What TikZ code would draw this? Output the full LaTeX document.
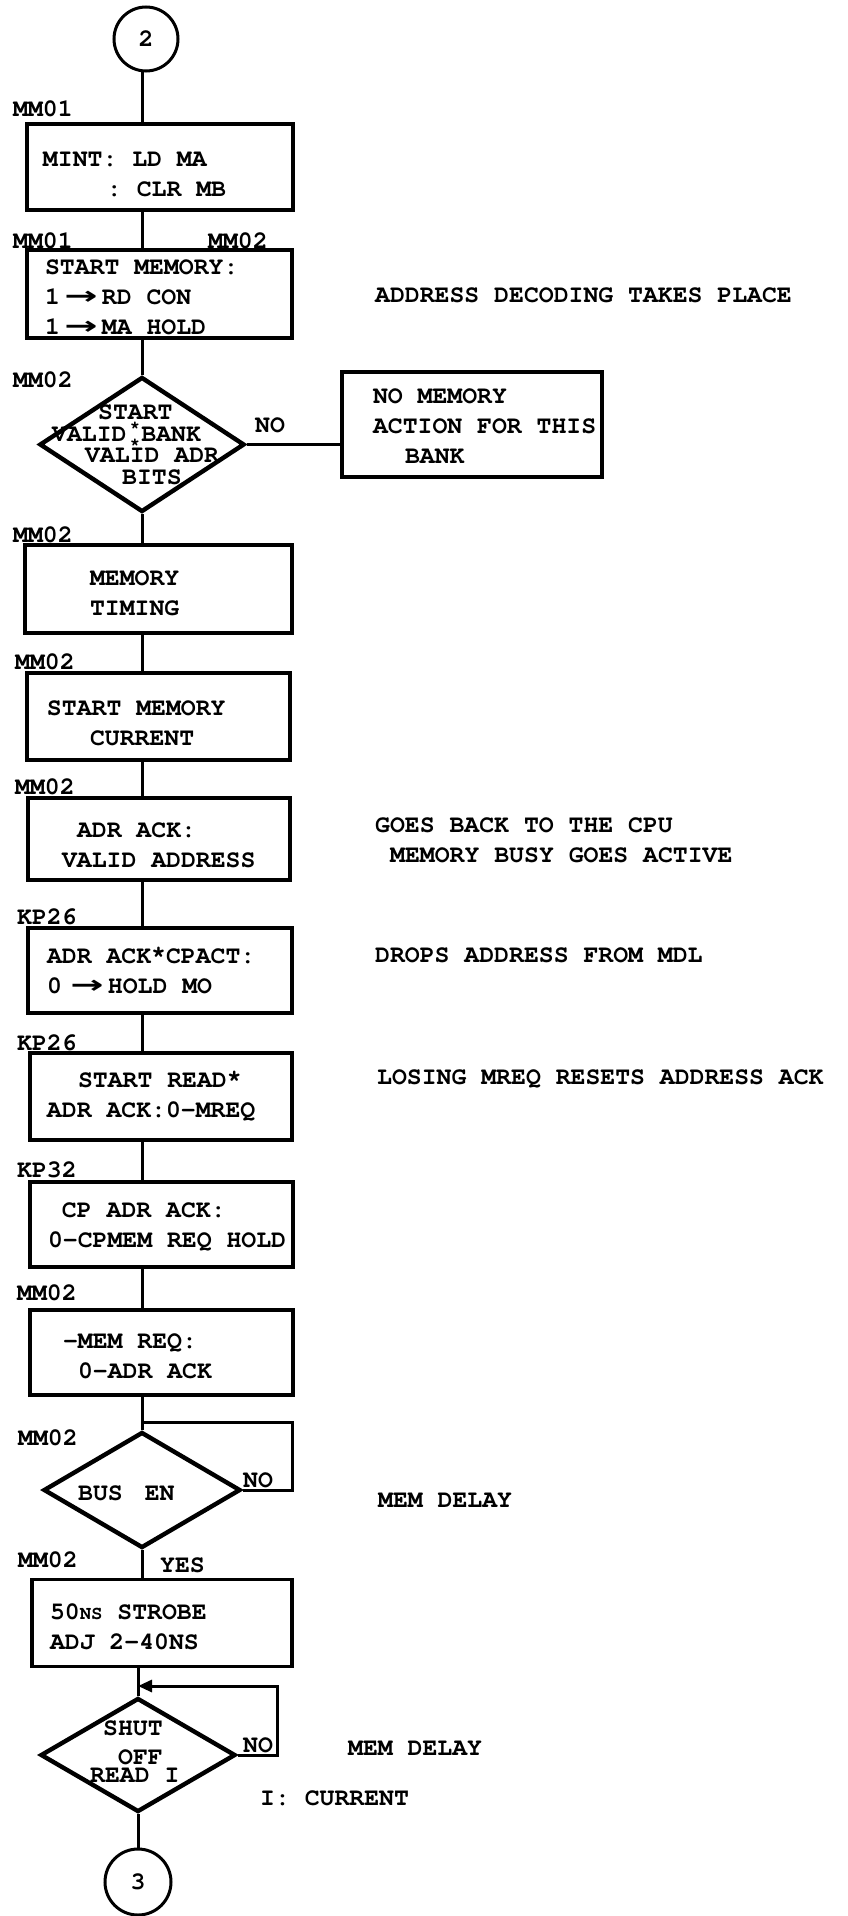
\documentclass[tikz,border=0pt]{standalone}
\usepackage[T1]{fontenc}
\usepackage{fontspec}
\usepackage{graphicx}
\usetikzlibrary{shapes.geometric,arrows.meta}
\newfontfamily\djv{DejaVu Sans}
\newcommand\twf{\fontencoding{T1}\fontfamily{pcr}\fontseries{b}\fontshape{n}\selectfont}
\newcommand\tw{\twf\fontsize{24.8pt}{30pt}\selectfont}
\newcommand\fixsp{\spaceskip=14.88pt\relax\xspaceskip=14.88pt\relax}
\newcommand\rar{\makebox[42pt][c]{\djv\bfseries\scalebox{1.6}[1]{→}}}
\newcommand\up[1]{\rule{0pt}{#1pt}}
\newcommand\rast{\raisebox{5pt}{*}}
\begin{document}
\begin{tikzpicture}[x=1pt,y=-1pt,
  every node/.style={font={\tw\fixsp}, execute at begin node={\fixsp}},
  box/.style={draw, line width=3.2pt, rectangle, inner sep=0pt, align=left},
  dec/.style={draw, diamond, line width=4.4pt, inner sep=0pt},
  term/.style={draw, circle, line width=3pt, inner sep=0pt},
  conn/.style={line width=3pt},
  lab/.style={anchor=west, inner sep=0pt, text height=14pt, text depth=0pt},
  asty/.style={inner sep=0pt, font={\twf\fontsize{17pt}{17pt}\selectfont}}]
\useasboundingbox (0,0) rectangle (847,1916);
\coordinate (sp) at (142,0);

% terminals
\node[term, minimum size=64pt] (c2) at (146,39) {2};
\node[term, minimum size=66pt] (c3) at (138,1882) {3};

% boxes
\node[box, minimum width=266pt, text width=266pt, minimum height=86pt] (b1) at (160,167)
  {\up{29}\hspace*{16pt}\mbox{MINT: LD MA}\\\hspace*{80pt}\mbox{: CLR MB}};
\node[box, minimum width=265pt, text width=265pt, minimum height=88pt] (b2) at (159.5,294)
  {\up{21}\hspace*{18pt}\mbox{START MEMORY:}\\\hspace*{18pt}\mbox{1\rar RD CON}\\\hspace*{18pt}\mbox{1\rar MA HOLD}};
\node[box, minimum width=260pt, text width=260pt, minimum height=105pt] (nm) at (472,424.5)
  {\up{19}\hspace*{31pt}\mbox{NO MEMORY}\\\hspace*{31pt}\mbox{ACTION FOR THIS}\\\hspace*{63pt}\mbox{BANK}};
\node[box, minimum width=267pt, text width=267pt, minimum height=88pt] (b3) at (158.5,589)
  {\up{23}\hspace*{65pt}\mbox{MEMORY}\\\hspace*{65pt}\mbox{TIMING}};
\node[box, minimum width=263pt, text width=263pt, minimum height=87pt] (b4) at (158.5,716.5)
  {\up{29}\hspace*{20pt}\mbox{START MEMORY}\\\hspace*{63pt}\mbox{CURRENT}};
\node[box, minimum width=262pt, text width=262pt, minimum height=82pt] (b5) at (159,839)
  {\up{27}\hspace*{49pt}\mbox{ADR ACK:}\\\hspace*{34pt}\mbox{VALID ADDRESS}};
\node[box, minimum width=264pt, text width=264pt, minimum height=85pt] (b6) at (160,970.5)
  {\hspace*{19pt}\mbox{ADR ACK\rast CPACT:}\\\hspace*{19pt}\mbox{0\hspace{4pt}\rar HOLD MO}};
\node[box, minimum width=262pt, text width=262pt, minimum height=87pt] (b7) at (161,1096.5)
  {\hspace*{48pt}\mbox{START READ\rast}\\\hspace*{17pt}\mbox{ADR ACK:0-MREQ}};
\node[box, minimum width=263pt, text width=263pt, minimum height=85pt] (b8) at (161.5,1224.5)
  {\up{19}\hspace*{32pt}\mbox{CP ADR ACK:}\\\hspace*{18pt}\mbox{0-CPMEM REQ HOLD}};
\node[box, minimum width=263pt, text width=263pt, minimum height=85pt] (b9) at (161.5,1352.5)
  {\up{23}\hspace*{33pt}\mbox{-MEM REQ:}\\\hspace*{48pt}\mbox{0-ADR ACK}};
\node[box, minimum width=260pt, text width=260pt, minimum height=87pt] (b10) at (162,1623)
  {\up{23}\hspace*{18pt}\mbox{50{\fontsize{19pt}{30pt}\selectfont NS} STROBE}\\\hspace*{18pt}\mbox{ADJ 2-40NS}};

% decisions
\node[dec, minimum width=205pt, minimum height=135pt] (d1) at (142,444.5) {};
\node[anchor=west, inner sep=0pt, align=left, font={\twf\fontsize{24.8pt}{21.7pt}\selectfont\fixsp}] (t1) at (52,445)
  {\hspace*{46pt}\mbox{START}\\\mbox{VALID BANK}\\\hspace*{33pt}\mbox{VALID ADR}\\\hspace*{70pt}\mbox{BITS}};
\node[asty] (s1) at (135,426) {*};
\node[asty] (s2) at (135,443) {*};

\node[dec, minimum width=197pt, minimum height=116pt] (d2) at (142,1490) {};
\node[lab] (t2) at (78,1493) {BUS\hspace{22pt}EN};

\node[dec, minimum width=195pt, minimum height=114pt] (d3) at (138,1755) {};
\node[lab] (t3a) at (103,1728) {SHUT};
\node[lab] (t3b) at (118,1757) {OFF};
\node[lab] (t3c) at (90,1775) {READ I};

% flow labels
\node[lab] (l1) at (13,110) {MM01};
\node[lab] (l2) at (13,241) {MM01};
\node[lab] (l3) at (208,241) {MM02};
\node[lab] (l4) at (13,380) {MM02};
\node[lab] (l5) at (13,535) {MM02};
\node[lab] (l6) at (15,662) {MM02};
\node[lab] (l7) at (15,787) {MM02};
\node[lab] (l8) at (17,917) {KP26};
\node[lab] (l9) at (17,1043) {KP26};
\node[lab] (l10) at (17,1170) {KP32};
\node[lab] (l11) at (17,1293) {MM02};
\node[lab] (l12) at (18,1438) {MM02};
\node[lab] (l13) at (18,1560) {MM02};
\node[lab] (yes) at (160,1565) {YES};
\node[lab] (no1) at (255,425) {NO};
\node[lab] (no2) at (243,1480) {NO};
\node[lab] (no3) at (243,1745) {NO};

% notes
\node[lab] (n1) at (375,295) {ADDRESS DECODING TAKES PLACE};
\node[lab] (n2) at (375,825) {GOES BACK TO THE CPU};
\node[lab] (n3) at (390,855) {MEMORY BUSY GOES ACTIVE};
\node[lab] (n4) at (375,955) {DROPS ADDRESS FROM MDL};
\node[lab] (n5) at (377,1077) {LOSING MREQ RESETS ADDRESS ACK};
\node[lab] (n6) at (378,1500) {MEM DELAY};
\node[lab] (n7) at (348,1748) {MEM DELAY};
\node[lab] (n8) at (260,1798) {I: CURRENT};

% connectors
\draw[conn] (c2.south -| sp) -- (b1.north -| sp);
\draw[conn] (b1.south -| sp) -- (b2.north -| sp);
\draw[conn] (b2.south -| sp) -- (d1.north);
\draw[conn] (d1.east) -- (d1.east -| nm.west);
\draw[conn] (d1.south) -- (b3.north -| sp);
\draw[conn] (b3.south -| sp) -- (b4.north -| sp);
\draw[conn] (b4.south -| sp) -- (b5.north -| sp);
\draw[conn] (b5.south -| sp) -- (b6.north -| sp);
\draw[conn] (b6.south -| sp) -- (b7.north -| sp);
\draw[conn] (b7.south -| sp) -- (b8.north -| sp);
\draw[conn] (b8.south -| sp) -- (b9.north -| sp);
\draw[conn] (b9.south -| sp) -- (d2.north);
\coordinate (j1) at (142,1422);
\coordinate (r1) at (292,1422);
\draw[conn] (d2.east) -| (r1) -- (j1);
\draw[conn] (d2.south) -- (b10.north -| sp);
\draw[conn] (b10.south -| d3.north) -- (d3.north);
\coordinate (j2) at (138,1686);
\coordinate (r2) at (277,1686);
\draw[conn, -{Triangle[length=14pt,width=12pt]}] (d3.east) -| (r2) -- (j2);
\draw[conn] (d3.south) -- (d3.south |- c3.north);
\end{tikzpicture}
\end{document}
